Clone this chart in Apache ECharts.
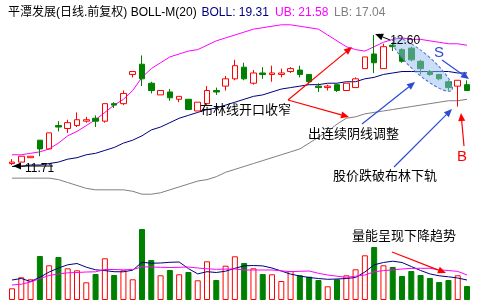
<!DOCTYPE html>
<html><head><meta charset="utf-8">
<script src="https://cdn.jsdelivr.net/npm/echarts@6/dist/echarts.min.js"></script>
<style>html,body{margin:0;padding:0;background:#fff}#c{width:478px;height:308px}</style>
</head><body><div id="c"></div>
<script>
const days = ['1','2','3','4','5','6','7','8','9','10','11','12','13','14','15','16','17','18','19','20','21','22','23','24','25','26','27','28','29','30','31','32','33','34','35','36','37','38','39','40','41','42','43','44','45','46','47','48','49','50'];
const opens  = [11.72,11.73,11.76,11.88,11.82,11.98,11.96,11.98,12.01,12.03,12.01,12.13,12.13,12.33,12.40,12.27,12.19,12.21,12.16,12.16,12.08,12.13,12.22,12.25,12.30,12.38,12.27,12.34,12.33,12.33,12.35,12.36,12.33,12.25,12.24,12.26,12.22,12.24,12.37,12.47,12.37,12.53,12.50,12.51,12.42,12.35,12.33,12.28,12.25,12.26];
const closes = [11.73,11.77,11.77,11.82,11.93,11.97,12.00,12.02,12.02,12.01,12.13,12.12,12.20,12.35,12.30,12.22,12.22,12.17,12.18,12.09,12.14,12.22,12.21,12.30,12.39,12.30,12.34,12.33,12.34,12.34,12.37,12.33,12.28,12.24,12.25,12.22,12.27,12.30,12.45,12.41,12.52,12.52,12.42,12.43,12.37,12.33,12.30,12.24,12.29,12.22];
const lows   = [11.71,11.73,11.76,11.77,11.82,11.94,11.93,11.97,12.00,11.97,12.00,12.10,12.12,12.31,12.25,12.20,12.19,12.15,12.14,12.09,12.08,12.12,12.19,12.22,12.29,12.29,12.26,12.30,12.28,12.31,12.34,12.31,12.27,12.21,12.22,12.21,12.22,12.24,12.37,12.34,12.37,12.49,12.41,12.42,12.33,12.32,12.29,12.22,12.11,12.22];
const highs  = [11.75,11.77,11.77,11.88,11.93,12.01,12.02,12.07,12.04,12.05,12.13,12.14,12.22,12.35,12.46,12.28,12.22,12.23,12.18,12.16,12.14,12.25,12.24,12.32,12.43,12.41,12.36,12.38,12.39,12.37,12.38,12.39,12.33,12.27,12.26,12.26,12.27,12.31,12.45,12.60,12.54,12.55,12.51,12.52,12.43,12.36,12.33,12.29,12.29,12.29];
const bollUpper = [11.78,11.78,11.79,11.80,11.82,11.86,11.91,11.94,11.98,12.02,12.07,12.12,12.16,12.22,12.31,12.37,12.41,12.45,12.47,12.49,12.50,12.53,12.56,12.58,12.60,12.62,12.64,12.65,12.66,12.67,12.67,12.66,12.65,12.64,12.60,12.56,12.52,12.50,12.49,12.52,12.55,12.57,12.58,12.57,12.57,12.56,12.55,12.54,12.54,12.53];
const bollMid = [11.70,11.70,11.71,11.71,11.72,11.73,11.75,11.76,11.78,11.79,11.81,11.83,11.86,11.88,11.91,11.95,11.97,12.00,12.03,12.05,12.07,12.09,12.10,12.12,12.14,12.16,12.18,12.19,12.21,12.23,12.24,12.25,12.26,12.26,12.27,12.27,12.28,12.28,12.30,12.31,12.33,12.34,12.35,12.35,12.35,12.35,12.35,12.35,12.34,12.34];
const bollLower = [11.62,11.62,11.62,11.62,11.62,11.61,11.59,11.57,11.55,11.54,11.54,11.54,11.54,11.53,11.51,11.51,11.52,11.54,11.56,11.58,11.60,11.61,11.63,11.66,11.68,11.70,11.72,11.74,11.76,11.78,11.80,11.82,11.86,11.90,11.94,11.99,12.03,12.04,12.06,12.07,12.08,12.09,12.10,12.11,12.12,12.13,12.14,12.15,12.15,12.16];
const volume = [11700,22700,20700,44000,34700,43000,31700,29700,17700,26000,41700,25000,29700,20700,71000,40000,24700,30000,25700,28000,19700,38700,20000,34300,43700,37000,31700,26000,25700,19000,29000,24700,23300,20000,13700,20700,24700,30700,44700,53000,34700,33000,24000,29000,25000,22000,18000,20000,24700,14000];
const volMa5 = [20000,21500,18500,22700,28000,32000,35200,36500,32800,30200,29400,28300,28200,29800,37700,36800,37000,37700,38000,31400,26100,28300,27500,28800,31700,34200,34500,34100,32000,29000,25900,24000,22500,21500,20700,21000,21500,22500,28000,35200,37500,38800,37500,33500,29500,26100,24200,23200,22000,20000];
const volMa10 = [15000,15800,18000,21500,24500,26000,27200,27500,28000,28200,30500,30500,30200,30500,33200,33000,32700,32500,32700,33000,32000,31200,30700,30900,31000,30000,30000,30000,30000,29200,28300,28700,29000,26700,25000,23800,22700,23800,25000,28200,29400,30100,31000,31600,31700,31700,30200,29500,28600,25000];
const titleMain = '平潭发展(日线.前复权) BOLL-M(20)';
const titleBoll = 'BOLL: 19.31', titleUB = 'UB: 21.58', titleLB = 'LB: 17.04';
const notes = ['布林线开口收窄','出连续阴线调整','股价跌破布林下轨','量能呈现下降趋势'];

const RED = '#ff0000', GREEN = '#008000', NAVY = '#000080', MAG = '#ff00ff', GRAY = '#808080', BLUE = '#2a4bd7';
const LATIN = '"Liberation Sans", "Noto Sans CJK SC", sans-serif';
const CJK = '"Noto Sans CJK SC", sans-serif';
const ohlc = opens.map((o, i) => [o, closes[i], lows[i], highs[i]]);
const volData = volume.map((v, i) => closes[i] >= opens[i]
  ? {value: v, itemStyle: {color: 'rgba(0,0,0,0)', borderColor: RED, borderWidth: 1}}
  : {value: v, itemStyle: {color: GREEN, borderColor: GREEN, borderWidth: 1}});

const chart = echarts.init(document.getElementById('c'));
const lineS = (data, color, xi) => ({type: 'line', data, xAxisIndex: xi, yAxisIndex: xi, symbol: 'none', smooth: false,
  lineStyle: {color, width: 1}, z: 2, silent: true});
chart.setOption({
  animation: false,
  backgroundColor: '#fff',
  grid: [{left: 7.36, width: 464.3, top: 20.4, height: 178.2}, {left: 7.36, width: 464.3, top: 220, height: 80}],
  xAxis: [{type: 'category', data: days, gridIndex: 0, show: false}, {type: 'category', data: days, gridIndex: 1, show: false}],
  yAxis: [{type: 'value', min: 11.48, max: 12.70, gridIndex: 0, show: false}, {type: 'value', min: 0, max: 80000, gridIndex: 1, show: false}],
  series: [
    lineS(bollUpper, MAG, 0), lineS(bollMid, NAVY, 0), lineS(bollLower, GRAY, 0),
    {type: 'candlestick', data: ohlc, xAxisIndex: 0, yAxisIndex: 0, barWidth: 6, z: 3,
      itemStyle: {color: 'rgba(0,0,0,0)', color0: GREEN, borderColor: RED, borderColor0: GREEN, borderWidth: 1}},
    {type: 'bar', data: volData, xAxisIndex: 1, yAxisIndex: 1, barWidth: 6, z: 1},
    Object.assign(lineS(volMa5, NAVY, 1), {z: 3}), Object.assign(lineS(volMa10, MAG, 1), {z: 3})
  ]
});

function arrow(x1, y1, x2, y2, color, w) {
  const a = Math.atan2(y2 - y1, x2 - x1), L = 8, W = 3.5;
  const bx = x2 - L * Math.cos(a), by = y2 - L * Math.sin(a);
  return [
    {type: 'line', z: 100, shape: {x1, y1, x2: bx, y2: by}, style: {stroke: color, lineWidth: w || 1.2}},
    {type: 'polygon', z: 100, shape: {points: [[x2, y2], [bx + W * Math.sin(a), by - W * Math.cos(a)], [bx - W * Math.sin(a), by + W * Math.cos(a)]]}, style: {fill: color}}
  ];
}
function txt(x, y, text, font, fill) {
  return {type: 'text', z: 100, x, y, style: {text, font, fill, align: 'left', verticalAlign: 'middle', textAlign: 'left', textVerticalAlign: 'middle'}};
}
const hiIdx = highs.indexOf(Math.max(...highs));
const loIdx = lows.indexOf(Math.min(...lows));
const hp = chart.convertToPixel({gridIndex: 0}, [hiIdx, highs[hiIdx]]);
const lp = chart.convertToPixel({gridIndex: 0}, [loIdx, lows[loIdx]]);

const g = [
  txt(8, 13, titleMain, '12px ' + LATIN, '#000'),
  txt(201.5, 13, titleBoll, '12px ' + LATIN, NAVY),
  txt(275, 13, titleUB, '12px ' + LATIN, MAG),
  txt(334, 13, titleLB, '12px ' + LATIN, GRAY),
  {type: 'ellipse', z: 50, x: 422.5, y: 64.5, rotation: -0.72, shape: {cx: 0, cy: 0, rx: 39, ry: 10},
    style: {fill: 'rgba(150,190,240,0.5)', stroke: '#4a6fd0', lineDash: [3, 2], lineWidth: 1}},
  ...arrow(lp[0] + 41, lp[1] + 1, lp[0] + 1, lp[1] + 1, '#000', 1),
  txt(lp[0] + 13, lp[1] + 4, lows[loIdx].toFixed(2), '12px ' + LATIN, '#000'),
  ...arrow(hp[0] + 16, hp[1] + 5, hp[0] + 1, hp[1] - 1, '#000', 1),
  txt(hp[0] + 16, hp[1] + 6, highs[hiIdx].toFixed(2), '12px ' + LATIN, '#000'),
  txt(200, 109, notes[0], '13px ' + CJK, '#000'),
  txt(308, 133, notes[1], '13px ' + CJK, '#000'),
  txt(333, 175, notes[2], '13px ' + CJK, '#000'),
  txt(352, 235, notes[3], '13px ' + CJK, '#000'),
  txt(434, 53, 'S', '15px ' + LATIN, BLUE),
  txt(457, 157, 'B', '15px ' + LATIN, RED),
  ...arrow(288, 100, 352, 47, RED),
  ...arrow(288, 100, 349, 117, RED),
  ...arrow(362, 124, 415, 82, BLUE),
  ...arrow(394, 167, 452, 109, BLUE),
  ...arrow(442, 60, 469, 79, BLUE),
  ...arrow(464, 146, 461, 113, RED),
  ...arrow(392, 252, 446, 273, RED)
];
chart.setOption({graphic: g});
</script></body></html>
